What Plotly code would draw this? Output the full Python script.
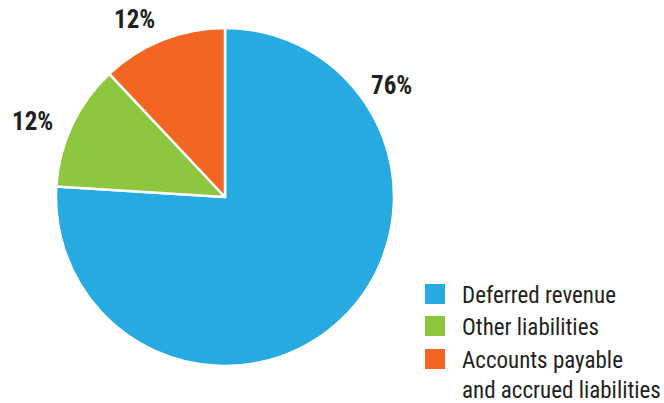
import plotly.graph_objects as go

# Liability composition
categories = ["Deferred revenue", "Other liabilities", "Accounts payable\nand accrued liabilities"]
values = [76, 12, 12]
colors = ["#27A9E1", "#8DC63F", "#F26522"]

W, H = 664, 403
TEXT = "#231F20"
FONT = "Roboto Condensed, Liberation Sans Narrow, Arial Narrow, sans-serif"

# pie geometry in pixels
cx, cy, r = 225, 197, 169

fig = go.Figure(go.Pie(
    labels=[c.replace("\n", " ") for c in categories],
    values=values,
    sort=False,
    direction="clockwise",
    rotation=0,
    marker=dict(colors=colors, line=dict(color="white", width=2.5)),
    textinfo="none",
    hoverinfo="label+percent",
    showlegend=False,
    domain=dict(x=[(cx - r) / W, (cx + r) / W], y=[(H - cy - r) / H, (H - cy + r) / H]),
))

# percentage labels placed around the pie
label_pos = [(391, 85), (32, 121), (134, 19)]
annotations = []
for v, (px, py) in zip(values, label_pos):
    annotations.append(dict(
        x=px / W, y=1 - py / H, xref="paper", yref="paper",
        text=f"<b>{v}%</b>", showarrow=False,
        font=dict(family=FONT, size=25, color=TEXT),
        xanchor="center", yanchor="middle",
    ))

# legend drawn as swatches and text
shapes = []
legend_rows = [294, 326, 359]
for cat, col, ly in zip(categories, colors, legend_rows):
    shapes.append(dict(
        type="rect", xref="paper", yref="paper",
        x0=425 / W, x1=445 / W, y0=1 - (ly + 10) / H, y1=1 - (ly - 10) / H,
        fillcolor=col, line=dict(width=0),
    ))
    annotations.append(dict(
        x=460 / W, y=1 - (ly - 14) / H, xref="paper", yref="paper",
        text=cat.replace("\n", "<br>"), showarrow=False, align="left",
        font=dict(family=FONT, size=23, color=TEXT),
        xanchor="left", yanchor="top",
    ))

fig.update_layout(
    width=W, height=H,
    margin=dict(l=0, r=0, t=0, b=0),
    paper_bgcolor="white", plot_bgcolor="white",
    annotations=annotations, shapes=shapes,
)

fig.write_html("out.html")
